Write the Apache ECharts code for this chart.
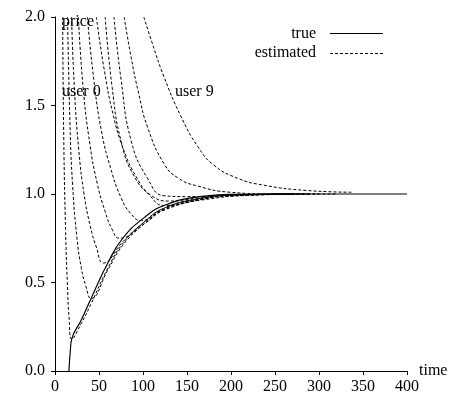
<!DOCTYPE html>
<html>
<head>
    <meta charset="utf-8" />
    <title>ECharts</title>
    <script src="https://cdn.jsdelivr.net/npm/echarts@6/dist/echarts.min.js"></script>
</head>
<body style="margin:0">
    <div id="main" style="width:460px;height:413px;"></div>
    <script type="text/javascript">
        var myChart = echarts.init(document.getElementById('main'));

        // true price [time, price]
        var truePrice = [[15.8, 0], [17.5, 0.12], [19, 0.18], [30, 0.29], [41, 0.41], [60, 0.61], [77, 0.75],
            [101, 0.865], [124, 0.935], [165, 0.985], [205, 0.998], [250, 1], [400, 1]];

        // estimated price per user
        var user0 = [[8.7, 2], [10, 1.3], [12, 0.8], [14, 0.5], [16, 0.3], [19, 0.18], [30, 0.27], [41, 0.38],
            [60, 0.58], [77, 0.72], [101, 0.84], [124, 0.92], [165, 0.975], [205, 0.995], [260, 1]];
        var user1 = [[14.3, 2], [17, 1.4], [20, 1.05], [25, 0.75], [30, 0.58], [35, 0.48], [41, 0.41], [60, 0.57],
            [77, 0.71], [101, 0.83], [124, 0.915], [165, 0.97], [205, 0.993], [260, 1]];
        var user2 = [[18.8, 2], [22, 1.6], [27, 1.25], [33, 1.0], [40, 0.82], [47, 0.7], [55, 0.61], [77, 0.73],
            [101, 0.84], [124, 0.92], [165, 0.975], [205, 0.995], [270, 1]];
        var user3 = [[26.6, 2], [32, 1.6], [40, 1.27], [48, 1.06], [57, 0.9], [65, 0.8], [73, 0.75], [101, 0.83],
            [124, 0.91], [165, 0.97], [205, 0.99], [270, 1]];
        var user4 = [[36.8, 2], [44, 1.65], [53, 1.35], [63, 1.15], [75, 0.98], [86, 0.89], [98, 0.85], [124, 0.91],
            [165, 0.968], [210, 0.993], [280, 1]];
        var user5 = [[47, 2], [56, 1.7], [66, 1.45], [78, 1.25], [92, 1.1], [108, 0.99], [124, 0.935], [165, 0.965],
            [210, 0.99], [290, 1]];
        var user6 = [[57, 2], [65, 1.6], [75, 1.3], [90, 1.1], [110, 0.99], [130, 0.96], [160, 0.975], [210, 0.993], [290, 1]];
        var user7 = [[67, 2], [75, 1.65], [86.6, 1.3], [105, 1.09], [124, 0.99], [150, 0.985], [200, 0.995], [300, 1]];
        var user8 = [[78.6, 2], [86.6, 1.77], [95, 1.57], [105, 1.38], [124, 1.17], [140, 1.09], [162, 1.045],
            [199, 1.01], [250, 1.0], [320, 1]];
        var user9 = [[101, 2], [110, 1.86], [124, 1.66], [143, 1.44], [162, 1.27], [180, 1.165], [207, 1.09],
            [237, 1.05], [286, 1.02], [337, 1.01]];
        var users = [user0, user1, user2, user3, user4, user5, user6, user7, user8, user9];

        var font = 'Liberation Serif';
        var series = [{
            name: 'true',
            type: 'line',
            data: truePrice,
            smooth: 0.5,
            showSymbol: false,
            lineStyle: { color: '#000', width: 1.2 },
            itemStyle: { color: '#000' }
        }];
        users.forEach(function (d) {
            series.push({
                name: 'estimated',
                type: 'line',
                data: d,
                smooth: 0.5,
                showSymbol: false,
                lineStyle: { color: '#000', width: 1, type: [3, 2] },
                itemStyle: { color: '#000' }
            });
        });

        var txt = function (s, x, y, align) {
            return { type: 'text', x: x, y: y, style: { text: s, font: '16px ' + font, fill: '#000', align: align || 'left', verticalAlign: 'middle' } };
        };

        var option = {
            animation: false,
            textStyle: { fontFamily: font },
            grid: { left: 55, right: 53, top: 17, bottom: 42 },
            graphic: [
                txt('price', 62, 22),
                txt('user 0', 62, 92),
                txt('user 9', 175, 92),
                // legend
                txt('true', 316, 34, 'right'),
                txt('estimated', 316, 53, 'right'),
                { type: 'line', shape: { x1: 330, y1: 33.5, x2: 383, y2: 33.5 }, style: { stroke: '#000', lineWidth: 1.2 } },
                { type: 'line', shape: { x1: 330, y1: 53.5, x2: 383, y2: 53.5 }, style: { stroke: '#000', lineWidth: 1, lineDash: [3, 2] } }
            ],
            xAxis: {
                type: 'value',
                min: 0, max: 400, interval: 50,
                name: 'time',
                nameGap: 12,
                nameTextStyle: { fontFamily: font, fontSize: 16, color: '#000', verticalAlign: 'middle' },
                splitLine: { show: false },
                axisLine: { lineStyle: { color: '#000' } },
                axisTick: { lineStyle: { color: '#000' }, length: 4 },
                axisLabel: { color: '#000', fontSize: 16, fontFamily: font, margin: 8 }
            },
            yAxis: {
                type: 'value',
                min: 0, max: 2, interval: 0.5,
                splitLine: { show: false },
                axisLine: { show: true, lineStyle: { color: '#000' } },
                axisTick: { show: true, lineStyle: { color: '#000' }, length: 4 },
                axisLabel: {
                    color: '#000', fontSize: 16, fontFamily: font, margin: 10,
                    formatter: function (v) { return v.toFixed(1); }
                }
            },
            series: series
        };

        myChart.setOption(option);
    </script>
</body>
</html>
